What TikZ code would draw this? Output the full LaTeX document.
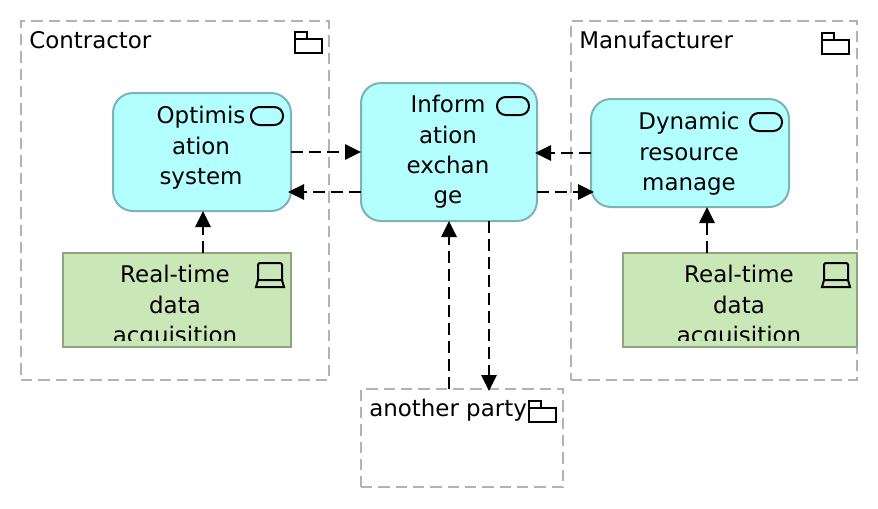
\documentclass[tikz,border=0pt]{standalone}
\usepackage{fontspec}
\setmainfont{DejaVu Sans}
\usetikzlibrary{arrows.meta,positioning,calc}
\definecolor{svcfill}{HTML}{B3FFFF}
\definecolor{svcline}{HTML}{7FB2B2}
\definecolor{devfill}{HTML}{C9E7B7}
\definecolor{devline}{HTML}{8CA583}
\definecolor{grpline}{HTML}{B3B3B3}
\tikzset{
  pkgicon/.pic={\draw[line width=1.5pt] (0,7) -- (0,21) -- (-27,21) -- (-27,0) -- (-15,0) -- (-15,7) -- cycle (-27,7) -- (-15,7);},
  svcicon/.pic={\draw[line width=1.5pt,rounded corners=6.5pt] (0,0) rectangle (-32,18);},
  devicon/.pic={\draw[line width=1.5pt,rounded corners=1.5pt] (-2,17) -- (-2,0) -- (-26,0) -- (-26,17);
    \draw[line width=1.5pt] (-2,17) -- (-26,17) -- (-28,24) -- (0,24) -- cycle;}}
\begin{document}
\begin{tikzpicture}[x=.75pt,y=-.75pt,
  font=\fontsize{17.2}{22.8}\selectfont,
  grp/.style={draw=grpline,line width=1.5pt,dash pattern=on 8.5pt off 4.5pt,anchor=north west,
              inner sep=0pt,outer sep=0pt},
  svc/.style={draw=svcline,fill=svcfill,line width=1.5pt,rounded corners=15pt,inner sep=0pt,outer sep=0pt},
  dev/.style={draw=devline,fill=devfill,line width=1.5pt,inner sep=0pt,outer sep=0pt},
  lbl/.style={anchor=north,align=center,inner sep=0pt},
  ttl/.style={anchor=base west,inner sep=0pt},
  ar/.style={-{Triangle[length=12pt,width=11.5pt]},line width=1.6pt,dash pattern=on 9pt off 4.5pt}]
\useasboundingbox (0,0) rectangle (878,508);
\node[grp,minimum width=231pt,minimum height=269.25pt] (con) at (21,21) {};
\node[grp,minimum width=214.5pt,minimum height=269.25pt] (man) at (571,21) {};
\node[svc,minimum width=133.5pt,minimum height=88.5pt] (opt) at (202,152) {};
\node[svc,minimum width=132pt,minimum height=103.5pt,right=52.5pt of opt] (info) {};
\node[svc,minimum width=148.5pt,minimum height=81pt,right=40.5pt of info,yshift=-.75pt] (dyn) {};
\node[dev,minimum width=171pt,minimum height=70.5pt,below=31.5pt of opt,xshift=-18.75pt] (rtc) {};
\node[dev,minimum width=175.5pt,minimum height=70.5pt,below=34.5pt of dyn,xshift=37.5pt] (rtm) {};
\node[grp,anchor=north,minimum width=151.5pt,minimum height=73.5pt,below=126pt of info,xshift=9.75pt] (par) {};
\node[ttl] (contxt) at ($(con.north west)+(8,27)$) {Contractor};
\node[ttl] (mantxt) at ($(man.north west)+(8,27)$) {Manufacturer};
\node[ttl] (partxt) at ($(par.north west)+(8,27)$) {another party};
\node[lbl] (opttxt) at ($(opt.north)+(-1,13)$) {Optimis\\ation\\system};
\node[lbl] (inftxt) at ($(info.north)+(-1,12)$) {Inform\\ation\\exchan\\ge};
\node[lbl] (dyntxt) at ($(dyn.north)+(-1,13)$) {Dynamic\\resource\\manage};
\begin{scope}
\clip (rtc.north west) rectangle ($(rtc.south east)+(0,-7)$);
\node[lbl] (rtctxt) at ($(rtc.north)+(-2,12)$) {Real-time\\data\\acquisition};
\end{scope}
\begin{scope}
\clip (rtm.north west) rectangle ($(rtm.south east)+(0,-7)$);
\node[lbl] (rtmtxt) at ($(rtm.north)+(-1,12)$) {Real-time\\data\\acquisition};
\end{scope}
\pic at ($(con.north east)+(-7,11)$) {pkgicon};
\pic at ($(man.north east)+(-8,12)$) {pkgicon};
\pic at ($(par.north east)+(-7,12)$) {pkgicon};
\pic at ($(opt.north east)+(-8,14)$) {svcicon};
\pic at ($(info.north east)+(-8,14)$) {svcicon};
\pic at ($(dyn.north east)+(-7,14)$) {svcicon};
\pic at ($(rtc.north east)+(-7,10)$) {devicon};
\pic at ($(rtm.north east)+(-7,10)$) {devicon};
\draw[ar] (opt.east) -- (info.west);
\draw[ar] ($(info.west)+(0,40)$) -- ($(opt.east)+(-3,40)$);
\draw[ar] (dyn.west) -- ($(info.east)+(-2,1)$);
\draw[ar] ($(info.east)+(0,40)$) -- ($(dyn.west)+(3,39)$);
\draw[ar] ($(rtc.north -| opt.south)+(1,0)$) -- ($(opt.south)+(1,0)$);
\draw[ar] ($(rtm.north -| dyn.south)+(17,0)$) -- ($(dyn.south)+(17,0)$);
\draw[ar] (par.north -| info.south) -- (info.south);
\draw[ar] ($(info.south)+(40,0)$) -- ($(par.north -| info.south)+(40,2)$);
\end{tikzpicture}
\end{document}
